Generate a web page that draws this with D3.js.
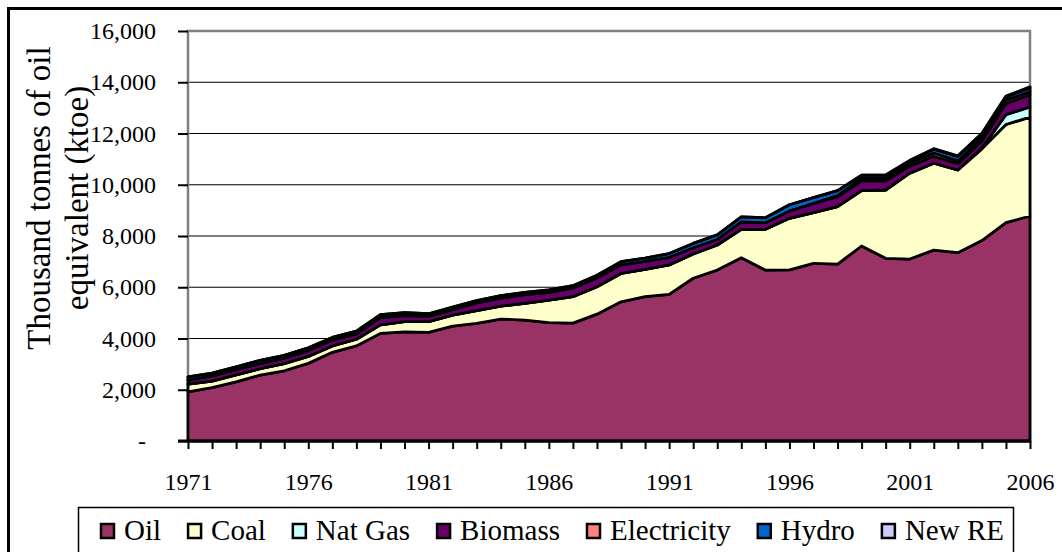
<!DOCTYPE html>
<html lang="en">
<head>
  <meta charset="UTF-8">
  <title>ktoe by source</title>
  <style>
    body {
      margin: 0;
      background-color: #fff;
    }

    .layer {
      stroke: #000;
      stroke-width: 2.8;
      stroke-linejoin: round;
    }
  </style>
</head>
<body>
  <script src="https://d3js.org/d3.v7.min.js"></script>
  <script>
    var years = d3.range(1971, 2007);

    var oil = [1920, 2080, 2310, 2570, 2740, 3030, 3460, 3710, 4200, 4260,
      4240, 4480, 4590, 4760, 4720, 4620, 4600, 4950, 5430, 5630,
      5720, 6350, 6670, 7150, 6670, 6680, 6930, 6900, 7610, 7130,
      7100, 7450, 7350, 7820, 8520, 8780];
    var coal = [300, 260, 270, 250, 280, 270, 250, 260, 330, 395,
      415, 436, 500, 505, 650, 880, 1030, 1070, 1110, 1070,
      1150, 950, 980, 1110, 1590, 2010, 1980, 2245, 2160, 2665,
      3350, 3390, 3225, 3580, 3830, 3860];
    var natGas = [0, 0, 0, 0, 0, 0, 0, 0, 0, 0,
      0, 0, 0, 0, 0, 0, 0, 0, 0, 0,
      0, 0, 0, 0, 0, 0, 0, 0, 0, 0,
      0, 0, 0, 30, 380, 400];
    var biomass = [160, 200, 200, 200, 210, 230, 230, 210, 285, 240,
      210, 210, 300, 315, 340, 300, 340, 340, 336, 310,
      294, 240, 215, 290, 260, 290, 360, 388, 387, 362,
      268, 269, 245, 280, 440, 470];
    var electricity = [0, 0, 0, 0, 0, 0, 0, 0, 0, 0,
      0, 0, 0, 0, 0, 0, 0, 0, 0, 0,
      0, 0, 0, 0, 0, 0, 0, 40, 100, 110,
      120, 130, 110, 120, 130, 120];
    var hydro = [120, 110, 110, 130, 110, 110, 100, 110, 120, 110,
      100, 100, 90, 90, 90, 100, 90, 110, 120, 130,
      150, 170, 180, 200, 190, 240, 230, 200, 120, 110,
      100, 150, 180, 150, 130, 150];
    var newRE = [0, 0, 0, 0, 0, 0, 0, 0, 0, 0,
      0, 0, 0, 0, 0, 0, 0, 0, 0, 0,
      0, 0, 0, 0, 0, 0, 0, 0, 0, 5,
      15, 20, 20, 25, 30, 40];

    var seriesNames = ['Oil', 'Coal', 'Nat Gas', 'Biomass', 'Electricity', 'Hydro', 'New RE'];
    var seriesColors = ['#993366', '#ffffcc', '#ccffff', '#660066', '#ff8080', '#0066cc', '#ccccff'];
    var yTicks = d3.range(0, 16001, 2000);

    var serif = '"Liberation Serif", "Times New Roman", serif';

    var width = 1062,
      height = 552;

    var svg = d3.select('body').append('svg')
      .attr('width', width)
      .attr('height', height);

    // outer chart frame (runs off the right and bottom edge)
    svg.append('rect')
      .attr('x', 8.5).attr('y', 8.5)
      .attr('width', 1100).attr('height', 600)
      .attr('fill', '#fff')
      .attr('stroke', '#000')
      .attr('stroke-width', 3);

    var x = d3.scaleLinear().domain([1971, 2006]).range([188, 1030]);
    var y = d3.scaleLinear().domain([0, 16000]).range([441, 31]);

    var rows = years.map(function(yr, i) {
      return {
        year: yr,
        'Oil': oil[i],
        'Coal': coal[i],
        'Nat Gas': natGas[i],
        'Biomass': biomass[i],
        'Electricity': electricity[i],
        'Hydro': hydro[i],
        'New RE': newRE[i]
      };
    });

    var stacked = d3.stack().keys(seriesNames)(rows);

    // gridlines
    svg.append('g')
      .selectAll('line')
      .data(yTicks.filter(function(d) { return d > 0; }))
      .enter().append('line')
      .attr('x1', x(1971)).attr('x2', x(2006))
      .attr('y1', function(d) { return y(d); })
      .attr('y2', function(d) { return y(d); })
      .attr('stroke', '#000')
      .attr('stroke-width', 1.2);

    // plot area border
    svg.append('rect')
      .attr('x', x(1971)).attr('y', y(16000))
      .attr('width', x(2006) - x(1971))
      .attr('height', y(0) - y(16000))
      .attr('fill', 'none')
      .attr('stroke', '#808080')
      .attr('stroke-width', 2.5);

    var area = d3.area()
      .x(function(d) { return x(d.data.year); })
      .y0(function(d) { return y(d[0]); })
      .y1(function(d) { return y(d[1]); });

    svg.append('g')
      .selectAll('path')
      .data(stacked)
      .enter().append('path')
      .attr('class', 'layer')
      .attr('fill', function(d, i) { return seriesColors[i]; })
      .attr('d', area);

    // y axis
    var yAxis = svg.append('g')
      .attr('transform', 'translate(' + x(1971) + ',0)')
      .call(d3.axisLeft(y)
        .tickValues(yTicks)
        .tickSize(10)
        .tickPadding(22)
        .tickFormat(function(d) { return d === 0 ? '-' : d3.format(',')(d); }));
    yAxis.select('.domain').remove();
    yAxis.selectAll('line').attr('stroke', '#000').attr('stroke-width', 2);
    yAxis.selectAll('text')
      .style('font-family', serif)
      .style('font-size', '24px')
      .attr('fill', '#000')
      .attr('dx', function(d) { return d === 0 ? -10 : 0; });

    // x axis
    var xAxis = svg.append('g')
      .attr('transform', 'translate(0,' + y(0) + ')')
      .call(d3.axisBottom(x)
        .tickValues(years)
        .tickSize(8)
        .tickFormat(function(d) { return (d - 1971) % 5 === 0 ? d : ''; }));
    xAxis.select('.domain')
      .attr('d', 'M' + (x(1971) - 10) + ',0H' + x(2006))
      .attr('stroke', '#000')
      .attr('stroke-width', 3);
    xAxis.selectAll('line').attr('stroke', '#000').attr('stroke-width', 2);
    xAxis.selectAll('text')
      .style('font-family', serif)
      .style('font-size', '24px')
      .attr('fill', '#000')
      .attr('y', 49)
      .attr('dy', 0);

    // y axis title
    var title = svg.append('text')
      .style('font-family', serif)
      .style('font-size', '33px')
      .attr('transform', 'rotate(-90)')
      .attr('text-anchor', 'middle');
    title.append('tspan').attr('x', -198).attr('y', 50).text('Thousand tonnes of oil');
    title.append('tspan').attr('x', -198).attr('y', 88).text('equivalent (ktoe)');

    // legend
    svg.append('rect')
      .attr('x', 78.5).attr('y', 507.5)
      .attr('width', 935).attr('height', 80)
      .attr('fill', '#fff')
      .attr('stroke', '#000')
      .attr('stroke-width', 1.5);

    var legend = svg.append('g');
    var lx = 101;
    seriesNames.forEach(function(name, i) {
      legend.append('rect')
        .attr('x', lx).attr('y', 524)
        .attr('width', 13).attr('height', 14)
        .attr('fill', seriesColors[i])
        .attr('stroke', '#000')
        .attr('stroke-width', 2.5);
      var t = legend.append('text')
        .style('font-family', serif)
        .style('font-size', '29px')
        .attr('x', lx + 23)
        .attr('y', 540)
        .text(name);
      lx += 23 + t.node().getComputedTextLength() + 27;
    });
  </script>
</body>
</html>
